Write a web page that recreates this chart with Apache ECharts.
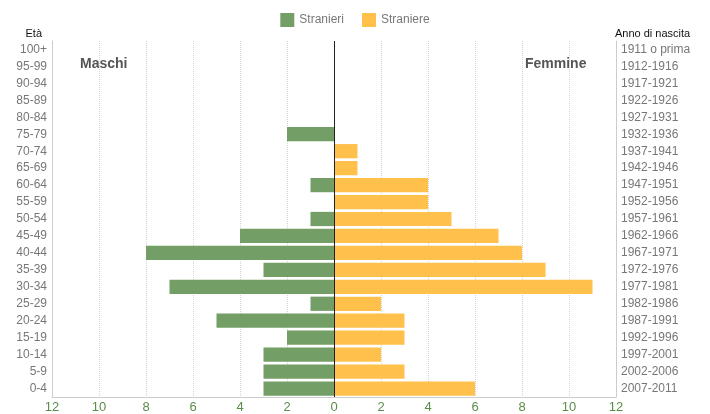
<!DOCTYPE html>
<html><head><meta charset="utf-8">
<script src="https://cdn.jsdelivr.net/npm/echarts@6/dist/echarts.min.js"></script>
<style>html,body{margin:0;padding:0;background:#fff}#c{width:710px;height:414px}</style>
</head><body><div id="c"></div>
<script>
const ages = ['0-4','5-9','10-14','15-19','20-24','25-29','30-34','35-39','40-44','45-49','50-54','55-59','60-64','65-69','70-74','75-79','80-84','85-89','90-94','95-99','100+'];
const births = ['2007-2011','2002-2006','1997-2001','1992-1996','1987-1991','1982-1986','1977-1981','1972-1976','1967-1971','1962-1966','1957-1961','1952-1956','1947-1951','1942-1946','1937-1941','1932-1936','1927-1931','1922-1926','1917-1921','1912-1916','1911 o prima'];
const maschi = [3,3,3,2,5,1,7,3,8,4,1,0,1,0,0,2,0,0,0,0,0];
const femmine = [6,3,2,3,3,2,11,9,8,7,5,4,4,1,1,0,0,0,0,0,0];
const chart = echarts.init(document.getElementById('c'));
const F = 'Liberation Sans, Arial, sans-serif';
chart.setOption({
  animation:false,
  textStyle:{fontFamily:F},
  legend:{top:8,left:'center',itemWidth:14,itemHeight:14,itemGap:18,icon:'rect',
    textStyle:{color:'#777',fontSize:12,fontFamily:F},data:['Stranieri','Straniere']},
  grid:{left:52,right:94,top:41,bottom:17},
  xAxis:{type:'value',min:-12,max:12,interval:2,
    axisLine:{show:true,lineStyle:{color:'#ccc'}},axisTick:{show:false},
    axisLabel:{color:'#5b8c4a',fontSize:13,margin:4,formatter:v=>Math.abs(v)},
    splitLine:{show:true,lineStyle:{color:'#d4d4d4',type:'dotted'}}},
  yAxis:[
    {type:'category',data:ages,position:'left',
     axisLine:{show:true,onZero:false,lineStyle:{color:'#ccc'}},axisTick:{show:false},
     axisLabel:{color:'#777',fontSize:12,margin:5},
     name:'Età',nameLocation:'end',nameGap:2,nameTextStyle:{color:'#111',fontSize:11,align:'right',padding:[0,10,0,0]}},
    {type:'category',data:births,position:'right',
     axisLine:{show:true,onZero:false,lineStyle:{color:'#ccc'}},axisTick:{show:false},
     axisLabel:{color:'#777',fontSize:12,margin:5},
     name:'Anno di nascita',nameLocation:'end',nameGap:2,nameTextStyle:{color:'#111',fontSize:11,align:'left',padding:[0,0,0,-1]}}
  ],
  series:[
    {name:'Stranieri',type:'bar',yAxisIndex:0,data:maschi.map(v=>-v),barCategoryGap:'16%',barGap:'-100%',
     itemStyle:{color:'#739e66'},
     markLine:{silent:true,symbol:'none',label:{show:false},lineStyle:{color:'#222',type:'solid',width:1},data:[{xAxis:0}]}},
    {name:'Straniere',type:'bar',yAxisIndex:0,data:femmine,barCategoryGap:'16%',barGap:'-100%',
     itemStyle:{color:'#ffc04c'}}
  ],
  graphic:[
    {type:'text',left:80,top:57,style:{text:'Maschi',font:'bold 14px '+F,fill:'#555'}},
    {type:'text',left:525,top:57,style:{text:'Femmine',font:'bold 14px '+F,fill:'#555'}}
  ]
});
</script></body></html>
